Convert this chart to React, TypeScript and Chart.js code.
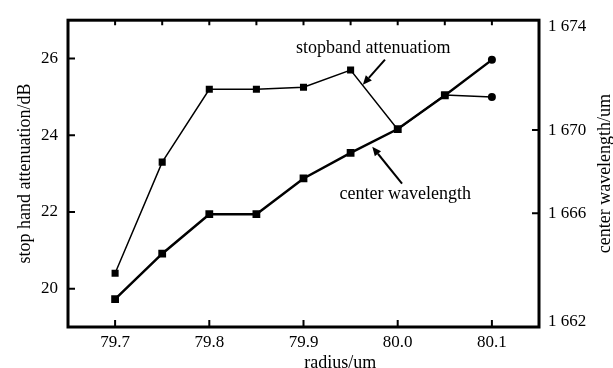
import React, { useEffect, useRef } from 'react';
import { Chart, registerables } from 'chart.js';

Chart.register(...registerables);

// ---- data ----
const radius = [79.7, 79.75, 79.8, 79.85, 79.9, 79.95, 80.0, 80.05, 80.1];
const stopbandAttenuation = [20.4, 23.3, 25.2, 25.2, 25.25, 25.7, 24.15, 25.05, 25.0];
const centerWavelength = [1661.86, 1664.05, 1665.95, 1665.95, 1667.67, 1668.9, 1670.05, 1671.67, 1673.38];

const xTicks = [79.7, 79.8, 79.9, 80.0, 80.1];
const xTopTicks = [79.7, 79.75, 79.8, 79.85, 79.9, 79.95, 80.0, 80.05, 80.1];
const leftTicks = [20, 22, 24, 26];
// right axis: inner ticks at 1666 / 1670; the end labels of the original sit at the frame edges
const rightAxisMin = 1660.52;
const rightAxisMax = 1675.29;
const rightTicks = [1660.76, 1666, 1670, 1675.0];
const rightTickLabels = ['1 662', '1 666', '1 670', '1 674'];
const rightTickMarks = [1666, 1670];

const xTitle = 'radius/um';
const leftTitle = 'stop hand attenuation/dB';
const rightTitle = 'center wavelength/um';

// annotations (data coordinates: x = radius, y = left axis)
const annotationLabels = ['stopband attenuatiom', 'center wavelength'];
const annotationLabelX = [79.974, 80.008];
const annotationLabelY = [26.28, 22.46];
const arrowFromX = [79.9865, 80.0046];
const arrowFromY = [25.97, 22.74];
const arrowToX = [79.963, 79.973];
const arrowToY = [25.32, 23.7];

const FONT = "'Liberation Serif', 'Times New Roman', serif";

const framePlugin = {
  id: 'framePlugin',
  afterDraw(chart: any) {
    const { ctx, chartArea } = chart;
    const { left, right, top, bottom } = chartArea;
    const xs = chart.scales.x;
    const ys = chart.scales.y;
    const y1 = chart.scales.y1;
    ctx.save();
    ctx.strokeStyle = '#000';
    ctx.fillStyle = '#000';
    // frame
    ctx.lineWidth = 3;
    ctx.strokeRect(left, top, right - left, bottom - top);
    // inward ticks
    ctx.lineWidth = 2;
    ctx.beginPath();
    xTicks.forEach((v) => {
      const px = xs.getPixelForValue(v);
      ctx.moveTo(px, bottom);
      ctx.lineTo(px, bottom - 7);
    });
    xTopTicks.forEach((v) => {
      const px = xs.getPixelForValue(v);
      ctx.moveTo(px, top);
      ctx.lineTo(px, top + 5);
    });
    leftTicks.forEach((v) => {
      const py = ys.getPixelForValue(v);
      ctx.moveTo(left, py);
      ctx.lineTo(left + 7, py);
    });
    rightTickMarks.forEach((v) => {
      const py = y1.getPixelForValue(v);
      ctx.moveTo(right, py);
      ctx.lineTo(right - 7, py);
    });
    ctx.stroke();

    // titles
    ctx.font = `18px ${FONT}`;
    ctx.textAlign = 'center';
    ctx.textBaseline = 'middle';
    ctx.fillText(xTitle, xs.getPixelForValue(79.939), 363);
    ctx.save();
    ctx.translate(605, (top + bottom) / 2);
    ctx.rotate(-Math.PI / 2);
    ctx.fillText(rightTitle, 0, 0);
    ctx.restore();

    // annotations
    annotationLabels.forEach((t, i) => {
      ctx.fillText(t, xs.getPixelForValue(annotationLabelX[i]), ys.getPixelForValue(annotationLabelY[i]));
      const x0 = xs.getPixelForValue(arrowFromX[i]);
      const y0 = ys.getPixelForValue(arrowFromY[i]);
      const x1 = xs.getPixelForValue(arrowToX[i]);
      const y1p = ys.getPixelForValue(arrowToY[i]);
      const ang = Math.atan2(y1p - y0, x1 - x0);
      const head = 9;
      const hw = 4;
      const bx = x1 - head * Math.cos(ang);
      const by = y1p - head * Math.sin(ang);
      ctx.lineWidth = 2;
      ctx.beginPath();
      ctx.moveTo(x0, y0);
      ctx.lineTo(bx, by);
      ctx.stroke();
      ctx.beginPath();
      ctx.moveTo(x1, y1p);
      ctx.lineTo(bx + hw * Math.sin(ang), by - hw * Math.cos(ang));
      ctx.lineTo(bx - hw * Math.sin(ang), by + hw * Math.cos(ang));
      ctx.closePath();
      ctx.fill();
    });
    ctx.restore();
  },
};

export default function App() {
  const ref = useRef<HTMLCanvasElement | null>(null);
  useEffect(() => {
    if (!ref.current) return;
    const styles = radius.map((_, i) => (i === radius.length - 1 ? 'circle' : 'rect'));
    const chart = new Chart(ref.current, {
      type: 'line',
      data: {
        datasets: [
          {
            label: 'stopband attenuation',
            data: radius.map((x, i) => ({ x, y: stopbandAttenuation[i] })),
            yAxisID: 'y',
            borderColor: '#000',
            backgroundColor: '#000',
            borderWidth: 1.5,
            pointStyle: styles as any,
            pointRadius: radius.map((_, i) => (i === radius.length - 1 ? 4 : 5)),
            pointBorderWidth: 0,
            tension: 0,
          },
          {
            label: 'center wavelength',
            data: radius.map((x, i) => ({ x, y: centerWavelength[i] })),
            yAxisID: 'y1',
            borderColor: '#000',
            backgroundColor: '#000',
            borderWidth: 2.5,
            pointStyle: styles as any,
            pointRadius: radius.map((_, i) => (i === radius.length - 1 ? 4 : 5.5)),
            pointBorderWidth: 0,
            tension: 0,
          },
        ],
      },
      options: {
        responsive: false,
        animation: false,
        layout: { padding: { top: 17, left: 0, right: 0, bottom: 0 } },
        plugins: { legend: { display: false }, tooltip: { enabled: false } },
        scales: {
          x: {
            type: 'linear',
            min: 79.65,
            max: 80.15,
            afterBuildTicks: (s: any) => {
              s.ticks = xTicks.map((v) => ({ value: v }));
            },
            afterFit: (s: any) => {
              s.height = 41;
            },
            ticks: {
              callback: (v: any) => Number(v).toFixed(1),
              font: { family: FONT, size: 17 },
              color: '#000',
              padding: 5,
              maxRotation: 0,
              autoSkip: false,
            },
            grid: { display: false, drawTicks: false },
            border: { display: false },
          },
          y: {
            type: 'linear',
            position: 'left',
            min: 19,
            max: 27,
            afterBuildTicks: (s: any) => {
              s.ticks = leftTicks.map((v) => ({ value: v }));
            },
            afterFit: (s: any) => {
              s.width = 68;
            },
            ticks: {
              font: { family: FONT, size: 17 },
              color: '#000',
              padding: 10,
              autoSkip: false,
            },
            title: {
              display: true,
              text: leftTitle,
              font: { family: FONT, size: 18 },
              color: '#000',
              padding: { top: 14, bottom: 0 },
            },
            grid: { display: false, drawTicks: false },
            border: { display: false },
          },
          y1: {
            type: 'linear',
            position: 'right',
            min: rightAxisMin,
            max: rightAxisMax,
            afterBuildTicks: (s: any) => {
              s.ticks = rightTicks.map((v) => ({ value: v }));
            },
            afterFit: (s: any) => {
              s.width = 74;
            },
            ticks: {
              callback: (v: any) => {
                const idx = rightTicks.indexOf(Number(v));
                return idx >= 0 ? rightTickLabels[idx] : '';
              },
              font: { family: FONT, size: 17 },
              color: '#000',
              padding: 9,
              autoSkip: false,
            },
            grid: { display: false, drawTicks: false, drawOnChartArea: false },
            border: { display: false },
          },
        },
      },
      plugins: [framePlugin],
    } as any);
    return () => chart.destroy();
  }, []);
  return (
    <div style={{ position: 'absolute', left: 0, top: 0, width: 613, height: 368, background: '#fff' }}>
      <canvas ref={ref} width={613} height={368} style={{ display: 'block' }} />
    </div>
  );
}
